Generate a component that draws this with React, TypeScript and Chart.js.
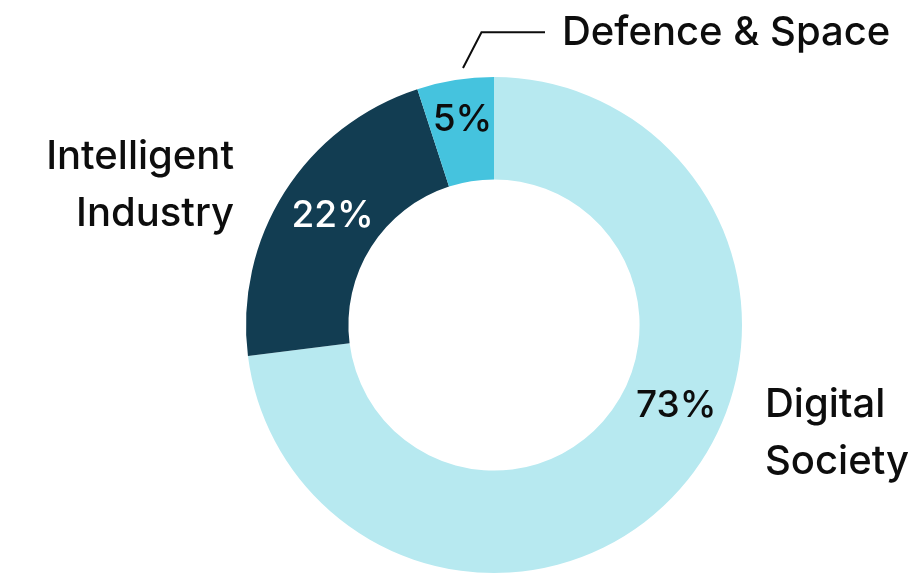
import React, { useEffect, useRef } from "react";
import { Chart, registerables } from "chart.js";

Chart.register(...registerables);

const categories = ["Digital Society", "Intelligent Industry", "Defence & Space"];
const shares = [73, 22, 5];
const percentLabels = ["73%", "22%", "5%"];

const sliceColors = ["#b7e9f0", "#123d52", "#45c3de"];
const pctColors = ["#0d0d0d", "#ffffff", "#0d0d0d"];
const FONT = "Inter, 'Noto Sans', sans-serif";

// label layout (polar anchors: fraction of turn from top clockwise, fraction of outer radius)
const pctAnchors = [
  { turn: 0.3147, rad: 0.8 },
  { turn: 0.846, rad: 0.79 },
  { turn: 0.976, rad: 0.847 },
];

const labelPlugin = {
  id: "customLabels",
  afterDraw(chart: any) {
    const meta = chart.getDatasetMeta(0);
    const arc: any = meta.data[0];
    if (!arc) return;
    const cx = arc.x;
    const cy = arc.y;
    const R = arc.outerRadius;
    const ctx = chart.ctx;
    ctx.save();

    // percent labels
    const pctSize = 37;
    ctx.font = `500 ${pctSize}px ${FONT}`;
    ctx.textAlign = "center";
    ctx.textBaseline = "alphabetic";
    percentLabels.forEach((t, i) => {
      const a = pctAnchors[i].turn * Math.PI * 2;
      const r = pctAnchors[i].rad * R;
      const x = cx + r * Math.sin(a);
      const y = cy - r * Math.cos(a);
      ctx.fillStyle = pctColors[i];
      ctx.fillText(t, x, y + pctSize * 0.727 / 2);
    });

    // category labels
    const catSize = 40;
    ctx.font = `500 ${catSize}px ${FONT}`;
    ctx.fillStyle = "#0d0d0d";
    // Digital Society
    ctx.textAlign = "left";
    const ds = categories[0].split(" ");
    ctx.fillText(ds[0], cx + R + 23, cy + 92);
    ctx.fillText(ds[1], cx + R + 23, cy + 149);
    // Intelligent Industry
    ctx.textAlign = "right";
    const ii = categories[1].split(" ");
    ctx.fillText(ii[0], cx - R - 12, cy - 156);
    ctx.fillText(ii[1], cx - R - 12, cy - 99);
    // Defence & Space
    ctx.textAlign = "left";
    ctx.fillText(categories[2], cx + 68, cy - 280);

    // leader line
    ctx.strokeStyle = "#0d0d0d";
    ctx.lineWidth = 2;
    ctx.beginPath();
    ctx.moveTo(cx - 31, cy - 257);
    ctx.lineTo(cx - 12.5, cy - 292.7);
    ctx.lineTo(cx + 51, cy - 292.7);
    ctx.stroke();

    ctx.restore();
  },
};

export default function App() {
  const ref = useRef<HTMLCanvasElement | null>(null);
  useEffect(() => {
    if (!ref.current) return;
    const chart = new Chart(ref.current, {
      type: "doughnut",
      data: {
        labels: categories,
        datasets: [
          {
            data: shares,
            backgroundColor: sliceColors,
            borderWidth: 0,
          },
        ],
      },
      options: {
        animation: false,
        responsive: true,
        maintainAspectRatio: false,
        cutout: "58.7%",
        layout: { padding: { top: 77, bottom: 4, left: 246, right: 172 } },
        plugins: {
          legend: { display: false },
          tooltip: { enabled: false },
        },
      },
      plugins: [labelPlugin],
    });
    return () => chart.destroy();
  }, []);
  return (
    <div style={{ position: "absolute", left: 0, top: 0, width: 914, height: 577, background: "#fff" }}>
      <canvas ref={ref} />
    </div>
  );
}
